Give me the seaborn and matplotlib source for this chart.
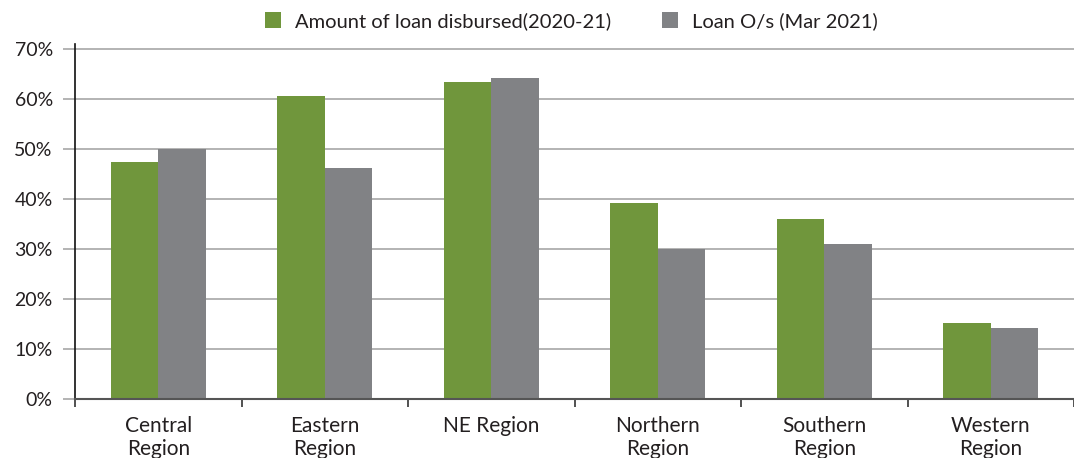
import matplotlib
matplotlib.use("Agg")
import matplotlib.pyplot as plt
import seaborn as sns
import pandas as pd
import numpy as np

regions = ["Central\nRegion", "Eastern\nRegion", "NE Region", "Northern\nRegion", "Southern\nRegion", "Western\nRegion"]
series_names = ["Amount of loan disbursed(2020-21)", "Loan O/s (Mar 2021)"]
disbursed = [47.4, 60.6, 63.4, 39.2, 36.0, 15.2]
outstanding = [50.0, 46.2, 64.2, 30.0, 31.0, 14.2]
yticks = [0, 10, 20, 30, 40, 50, 60, 70]
colors = ["#70963C", "#818285"]

sns.set_style("white")
plt.rcParams['font.family'] = ['Lato', 'DejaVu Sans']

df = pd.DataFrame({
    "region": regions * 2,
    "series": [series_names[0]] * len(regions) + [series_names[1]] * len(regions),
    "value": disbursed + outstanding,
})

fig = plt.figure(figsize=(10.74, 4.58), dpi=100)
ax = fig.add_axes([75/1074, 1 - 399/458, 1 - 75/1074, (399-44)/458])
sns.barplot(data=df, x="region", y="value", hue="series", order=regions,
            hue_order=series_names, palette=colors, width=0.57, saturation=1,
            linewidth=0, edgecolor="none", ax=ax, legend=True)

ax.set_ylim(0, 71)
ax.set_xlim(-0.5, 5.5)
ax.set_yticks(yticks)
ax.set_yticklabels([f"{v}%" for v in yticks], fontsize=14, color="#231f20")
ax.yaxis.grid(True, color="#a7a7a7", lw=1.2)
ax.set_axisbelow(True)
ax.tick_params(axis="y", length=9, color="#a7a7a7", width=1.2, pad=7, left=True)
ax.set_xticks(range(len(regions)))
ax.set_xticklabels(regions, fontsize=15, color="#231f20", linespacing=1.2)
ax.set_xticks(np.arange(-0.5, 6, 1), minor=True)
ax.tick_params(axis="x", which="major", length=0, pad=12)
ax.tick_params(axis="x", which="minor", length=6, color="#333333", width=1.2, bottom=True)
ax.set_xlabel("")
ax.set_ylabel("")
for s in ["top", "right"]:
    ax.spines[s].set_visible(False)
ax.spines["left"].set_color("#111111")
ax.spines["left"].set_linewidth(1.2)
ax.spines["bottom"].set_color("#555555")
ax.spines["bottom"].set_linewidth(1.5)

handles, labels = ax.get_legend_handles_labels()
ax.legend_.remove()
fig.legend(handles, labels, loc="center", bbox_to_anchor=(0.532, 1 - 21/458), ncol=2,
           frameon=False, fontsize=14.5, handlelength=0.8, handleheight=0.8,
           handletextpad=0.7, columnspacing=2.5, labelcolor="#231f20")

fig.savefig("out.png", dpi=100)
